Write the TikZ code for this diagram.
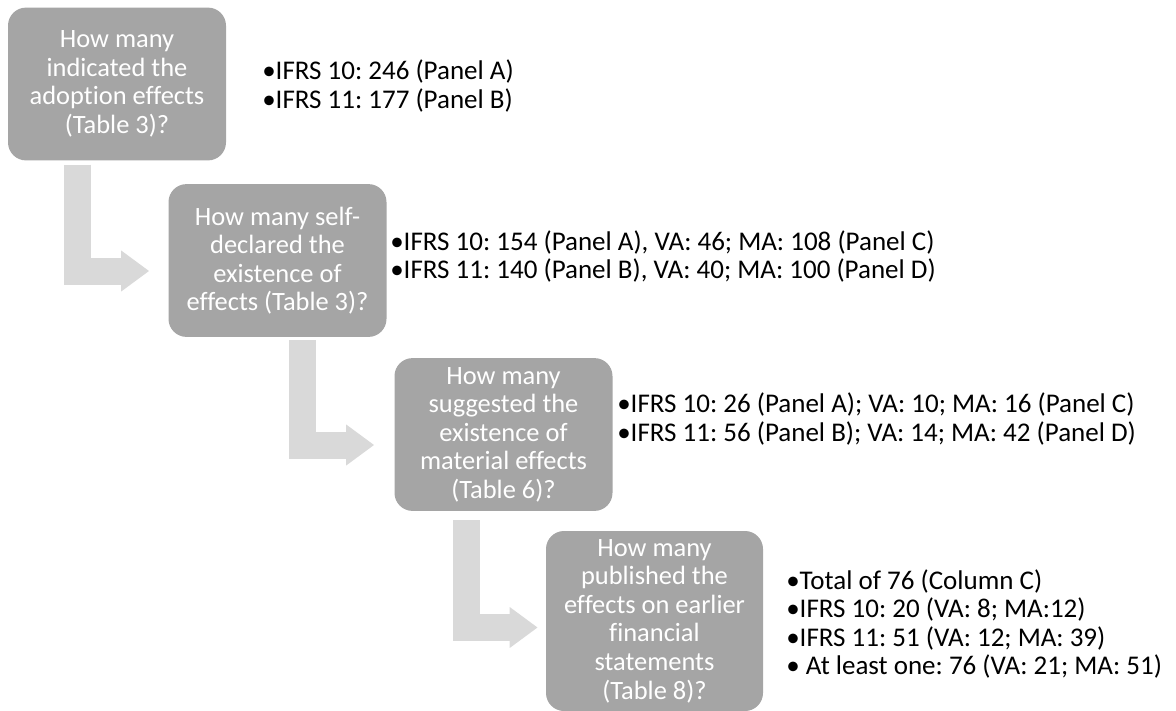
\documentclass[tikz,border=0pt]{standalone}
\usepackage{fontspec}
\setmainfont{Carlito}[Ligatures=NoCommon]
\frenchspacing
\usetikzlibrary{arrows.meta,positioning}
\definecolor{boxgrey}{HTML}{A5A5A5}
\definecolor{bendgrey}{HTML}{D9D9D9}
\definecolor{ink}{HTML}{000000}
\tikzset{
  stepbox/.style={fill=boxgrey,draw=none,rounded corners=0.45cm,minimum width=54.5mm,minimum height=38.2mm,align=center,inner sep=2pt,text=white,font=\fontsize{18.8}{20.3}\selectfont},
  facts/.style={anchor=west,align=left,inner sep=0pt,text=ink,font=\fontsize{19.2}{20.3}\selectfont},
  bent arrow/.style={-{Triangle[length=7mm,width=9.75mm]},draw=bendgrey,line width=6.75mm}
}

\begin{document}
\begin{tikzpicture}
  \useasboundingbox (0,0) rectangle (29.4,-17.775);

  \node[stepbox] (indicated) at (2.925,-2.1) {How many\\indicated the\\adoption effects\\(Table 3)?};
  \node[stepbox] (declared) at (6.9375,-6.5125) {How many self-\\declared the\\existence of\\effects (Table 3)?};
  \node[stepbox] (material) at (12.5875,-10.8625) {How many\\suggested the\\existence of\\material effects\\(Table 6)?};
  \node[stepbox,minimum width=54.25mm,minimum height=45mm] (published) at (16.3625,-15.525) {How many\\published the\\effects on earlier\\financial\\statements\\(Table 8)?};

  \node[facts] (indicated-n) at (6.55,-2.15) {•IFRS 10: 246 (Panel A)\\•IFRS 11: 177 (Panel B)};
  \node[facts] (declared-n) at (9.75,-6.4125) {•IFRS 10: 154 (Panel A), VA: 46; MA: 108 (Panel C)\\•IFRS 11: 140 (Panel B), VA: 40; MA: 100 (Panel D)};
  \node[facts] (material-n) at (15.425,-10.475) {•IFRS 10: 26 (Panel A); VA: 10; MA: 16 (Panel C)\\•IFRS 11: 56 (Panel B); VA: 14; MA: 42 (Panel D)};
  \node[facts] (published-n) at (19.65,-15.6) {•Total of 76 (Column C)\\•IFRS 10: 20 (VA: 8; MA:12)\\•IFRS 11: 51 (VA: 12; MA: 39)\\• At least one: 76 (VA: 21; MA: 51)};

  \draw[bent arrow] ([xshift=-0.9875cm,yshift=-0.1cm]indicated.south) |- ([xshift=-0.475cm,yshift=-0.2625cm]declared.west);
  \draw[bent arrow] ([xshift=0.625cm,yshift=-0.075cm]declared.south) |- ([xshift=-0.5cm,yshift=-0.2625cm]material.west);
  \draw[bent arrow] ([xshift=-0.925cm,yshift=-0.225cm]material.south) |- ([xshift=-0.2cm,yshift=-0.1625cm]published.west);
\end{tikzpicture}
\end{document}
